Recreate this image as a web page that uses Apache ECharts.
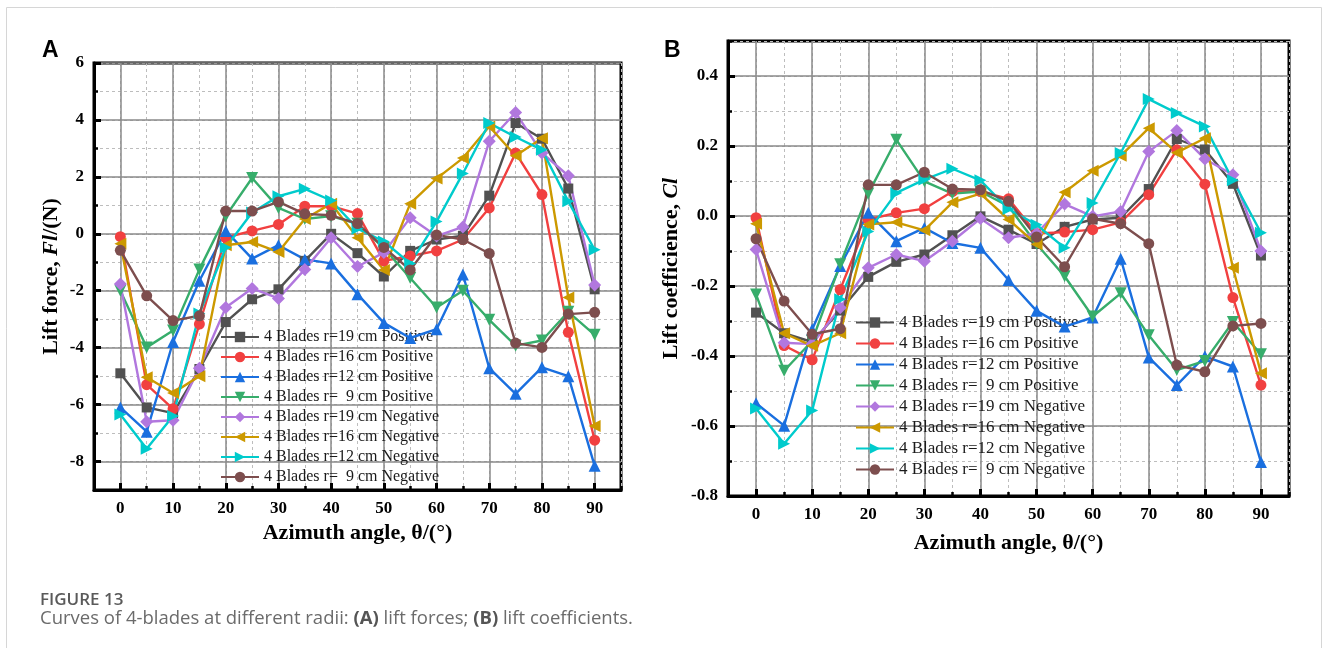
<!DOCTYPE html>
<html><head><meta charset="utf-8">
<script src="https://cdn.jsdelivr.net/npm/echarts@6/dist/echarts.min.js"></script>
<style>html,body{margin:0;padding:0;background:#fff}#c{width:1328px;height:648px}</style>
</head><body><div id="c"></div>
<script>
// ---------------- data ----------------
const angles = [0,5,10,15,20,25,30,35,40,45,50,55,60,65,70,75,80,85,90];
const seriesNames = [
  '4 Blades r=19 cm Positive',
  '4 Blades r=16 cm Positive',
  '4 Blades r=12 cm Positive',
  '4 Blades r=  9 cm Positive',
  '4 Blades r=19 cm Negative',
  '4 Blades r=16 cm Negative',
  '4 Blades r=12 cm Negative',
  '4 Blades r=  9 cm Negative'
];
// (A) lift force Fl (N)
const forceR19Pos = [-4.9,-6.1,-6.3,-4.75,-3.1,-2.3,-1.95,-0.95,0.0,-0.68,-1.5,-0.6,-0.2,-0.07,1.34,3.89,3.34,1.59,-1.95];
const forceR16Pos = [-0.1,-5.3,-6.15,-3.17,-0.13,0.1,0.33,0.97,0.97,0.71,-0.95,-0.78,-0.6,-0.2,0.91,2.84,1.38,-3.46,-7.25];
const forceR12Pos = [-6.1,-6.95,-3.8,-1.65,0.1,-0.87,-0.4,-0.9,-1.04,-2.12,-3.13,-3.66,-3.35,-1.43,-4.72,-5.62,-4.69,-5.0,-8.15];
const forceR9Pos  = [-2.0,-3.99,-3.4,-1.25,0.62,1.96,0.91,0.52,0.62,0.35,-0.5,-1.55,-2.59,-2.0,-3.02,-3.93,-3.75,-2.74,-3.55];
const forceR19Neg = [-1.76,-6.6,-6.55,-4.72,-2.59,-1.92,-2.27,-1.25,-0.14,-1.15,-0.66,0.56,-0.08,0.24,3.25,4.26,2.84,2.04,-1.8];
const forceR16Neg = [-0.35,-5.04,-5.59,-5.0,-0.4,-0.29,-0.64,0.52,1.06,-0.14,-1.27,1.06,1.94,2.66,3.77,2.74,3.36,-2.24,-6.75];
const forceR12Neg = [-6.35,-7.55,-6.4,-2.8,-0.48,0.75,1.32,1.58,1.17,0.18,-0.27,-1.04,0.43,2.12,3.89,3.4,2.95,1.14,-0.56];
const forceR9Neg  = [-0.58,-2.18,-3.05,-2.88,0.8,0.8,1.12,0.7,0.65,0.36,-0.48,-1.27,-0.04,-0.2,-0.69,-3.84,-3.99,-2.82,-2.76];
// (B) lift coefficient Cl
const coefR19Pos = [-0.276,-0.335,-0.36,-0.27,-0.174,-0.131,-0.11,-0.055,-0.001,-0.039,-0.08,-0.031,-0.01,-0.005,0.077,0.22,0.19,0.092,-0.113];
const coefR16Pos = [-0.005,-0.37,-0.411,-0.21,-0.01,0.009,0.021,0.07,0.07,0.049,-0.05,-0.046,-0.039,-0.018,0.061,0.189,0.091,-0.233,-0.483];
const coefR12Pos = [-0.535,-0.599,-0.324,-0.143,0.009,-0.072,-0.034,-0.077,-0.091,-0.183,-0.271,-0.316,-0.29,-0.122,-0.404,-0.483,-0.401,-0.43,-0.703];
const coefR9Pos  = [-0.224,-0.442,-0.357,-0.138,0.064,0.218,0.099,0.064,0.07,0.028,-0.08,-0.172,-0.287,-0.221,-0.341,-0.44,-0.414,-0.303,-0.395];
const coefR19Neg = [-0.096,-0.362,-0.366,-0.262,-0.148,-0.11,-0.129,-0.072,-0.007,-0.062,-0.05,0.034,-0.001,0.013,0.184,0.244,0.163,0.118,-0.1];
const coefR16Neg = [-0.022,-0.335,-0.371,-0.335,-0.024,-0.018,-0.041,0.039,0.064,-0.01,-0.081,0.068,0.129,0.172,0.251,0.181,0.222,-0.148,-0.449];
const coefR12Neg = [-0.55,-0.651,-0.556,-0.238,-0.044,0.066,0.104,0.135,0.102,0.02,-0.025,-0.091,0.037,0.18,0.334,0.294,0.256,0.102,-0.048];
const coefR9Neg  = [-0.065,-0.243,-0.338,-0.322,0.089,0.089,0.125,0.077,0.075,0.042,-0.06,-0.145,-0.008,-0.022,-0.079,-0.426,-0.445,-0.314,-0.307];

const forceSets = [forceR19Pos,forceR16Pos,forceR12Pos,forceR9Pos,forceR19Neg,forceR16Neg,forceR12Neg,forceR9Neg];
const coefSets  = [coefR19Pos,coefR16Pos,coefR12Pos,coefR9Pos,coefR19Neg,coefR16Neg,coefR12Neg,coefR9Neg];

const xMajorTicks = [0,10,20,30,40,50,60,70,80,90];
const forceMajorTicks = [-8,-6,-4,-2,0,2,4,6];
const coefMajorTicks = [-0.8,-0.6,-0.4,-0.2,0,0.2,0.4];

// ---------------- styles ----------------
const colors = ['#515151','#F14040','#1A6FDF','#37AD6B','#B177DE','#CC9900','#00CBCC','#7D4E4E'];
const markers = [
  {symbol:'rect', rot:0, size:10},
  {symbol:'circle', rot:0, size:11},
  {symbol:'triangle', rot:0, size:12},
  {symbol:'triangle', rot:180, size:12},
  {symbol:'diamond', rot:0, size:13},
  {symbol:'triangle', rot:90, size:12},
  {symbol:'triangle', rot:-90, size:12},
  {symbol:'circle', rot:0, size:11}
];
const SERIF = '"Liberation Serif", "Times New Roman", serif';
const tickFont = {fontFamily: SERIF, fontWeight: 'bold', fontSize: 17, color: '#000'};
const nameFont = {fontFamily: SERIF, fontWeight: 'bold', fontSize: 22, color: '#000'};

function pairs(vals){ return angles.map((a,i)=>[a, vals[i]]); }

function majorX(grid, nameGap){
  return {
    gridIndex: grid, type:'value', min:-5, max:95, interval:5, position:'bottom',
    axisLine:{show:true, onZero:false, lineStyle:{color:'#000', width:3}},
    axisTick:{show:true, inside:true, length:7, customValues:xMajorTicks, lineStyle:{color:'#000', width:3}},
    axisLabel:{customValues:xMajorTicks, margin:10, ...tickFont},
    splitLine:{show:true, lineStyle:{color:'#8a8a8a', width:1.5, type:'solid'}},
    name:'Azimuth angle, θ/(°)', nameLocation:'middle', nameGap:nameGap, nameTextStyle:nameFont,
    z: 3
  };
}
function minorX(grid){
  return {
    gridIndex: grid, type:'value', min:-5, max:95, interval:5, position:'bottom',
    axisLine:{show:false, onZero:false},
    axisTick:{show:true, inside:true, length:4, lineStyle:{color:'#000', width:2.5}},
    axisLabel:{show:false},
    splitLine:{show:true, lineStyle:{color:'#bdbdbd', width:1, type:[3,3]}},
    z: 2
  };
}
function majorY(grid, min, max, interval, ticks, fmt, name, nameGap){
  return {
    gridIndex: grid, type:'value', min:min, max:max, interval:interval, position:'left',
    axisLine:{show:true, onZero:false, lineStyle:{color:'#000', width:3}},
    axisTick:{show:true, inside:true, length:7, customValues:ticks, lineStyle:{color:'#000', width:3}},
    axisLabel:{customValues:ticks, margin:10, formatter:fmt, ...tickFont},
    splitLine:{show:true, lineStyle:{color:'#8a8a8a', width:1.5, type:'solid'}},
    name:name, nameLocation:'middle', nameGap:nameGap,
    nameTextStyle:{...nameFont, rich:{n:{...nameFont}, i:{...nameFont, fontStyle:'italic'}}},
    z: 3
  };
}
function minorY(grid, min, max, interval){
  return {
    gridIndex: grid, type:'value', min:min, max:max, interval:interval, position:'left',
    axisLine:{show:false, onZero:false},
    axisTick:{show:true, inside:true, length:4, lineStyle:{color:'#000', width:2.5}},
    axisLabel:{show:false},
    splitLine:{show:true, lineStyle:{color:'#bdbdbd', width:1, type:[3,3]}},
    z: 2
  };
}

const series = [];
function addSeries(sets, xIdx, yIdx){
  sets.forEach((vals, k) => {
    const m = markers[k];
    series.push({
      name: seriesNames[k], type:'line', xAxisIndex:xIdx, yAxisIndex:yIdx,
      data: pairs(vals),
      symbol: m.symbol, symbolRotate: m.rot, symbolSize: m.size, showAllSymbol:true,
      lineStyle:{color:colors[k], width:2.4},
      itemStyle:{color:colors[k]},
      emphasis:{disabled:true}, animation:false, z: 5
    });
  });
}
addSeries(forceSets, 0, 0);
addSeries(coefSets, 2, 2);

const legendText = {fontFamily: SERIF, fontSize: 16, color:'#1a1a1a', lineHeight:16};

const option = {
  backgroundColor:'#fff',
  animation:false,
  grid:[
    {left:94, top:63, width:527, height:427, show:true, borderColor:'#000', borderWidth:3, backgroundColor:'transparent'},
    {left:728, top:41, width:561, height:455, show:true, borderColor:'#000', borderWidth:3, backgroundColor:'transparent'}
  ],
  xAxis:[ majorX(0, 30), minorX(0), majorX(1, 36), minorX(1) ],
  yAxis:[
    majorY(0, -9, 6, 1, forceMajorTicks, v => String(Math.round(v)), '{n|Lift force, }{i|Fl}{n|/(N)}', 32),
    minorY(0, -9, 6, 1),
    majorY(1, -0.8, 0.5, 0.1, coefMajorTicks, v => (Math.round(v*10)/10).toFixed(1), '{n|Lift coefficience, }{i|Cl}', 46),
    minorY(1, -0.8, 0.5, 0.1)
  ],
  legend:[
    {data:seriesNames, orient:'vertical', left:215, top:324, itemWidth:38, itemHeight:13, itemGap:4,
     textStyle:legendText, selectedMode:false},
    {data:seriesNames, orient:'vertical', left:850, top:309, itemWidth:38, itemHeight:13, itemGap:4,
     textStyle:{...legendText, fontSize:17, lineHeight:17}, selectedMode:false}
  ],
  graphic:[
    {type:'rect', shape:{x:6.5, y:7.5, width:1315, height:700}, style:{fill:'none', stroke:'#d6d6d6', lineWidth:1}, z:-1, silent:true},
    {type:'text', left:42, top:39, style:{text:'A', font:'bold 23px "Liberation Sans", Arial, sans-serif', fill:'#000'}},
    {type:'text', left:664, top:39, style:{text:'B', font:'bold 23px "Liberation Sans", Arial, sans-serif', fill:'#000'}},
    {type:'text', left:40, top:592, style:{text:'FIGURE 13', font:'600 17px "Open Sans", sans-serif', fill:'#5a5a5a'}},
    {type:'text', left:40, top:609, style:{
      text:'Curves of 4-blades at different radii: {b|(A)} lift forces; {b|(B)} lift coefficients.',
      font:'18.5px "Open Sans", sans-serif', fill:'#6b6b6b',
      rich:{b:{fontFamily:'"Open Sans", sans-serif', fontSize:18.5, fontWeight:'bold', fill:'#555', color:'#555'}}
    }}
  ],
  series: series
};
const chart = echarts.init(document.getElementById('c'), null, {renderer:'canvas'});
chart.setOption(option);
</script>
</body></html>
